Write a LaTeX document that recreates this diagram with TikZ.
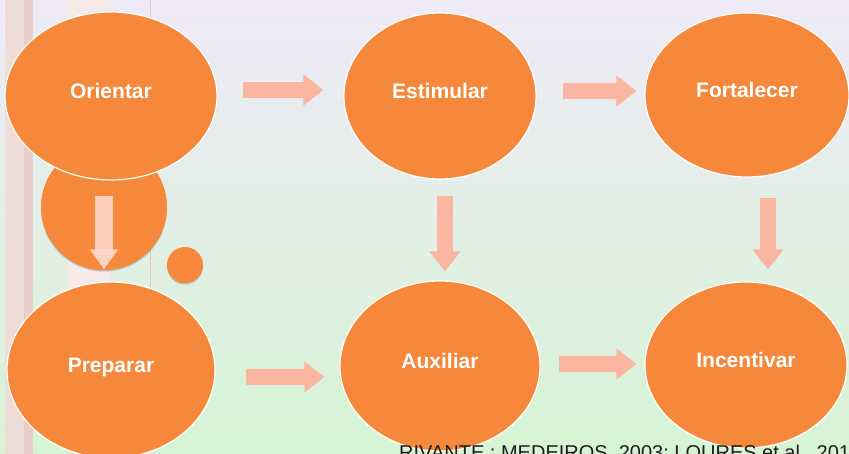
\documentclass[tikz,border=0pt]{standalone}
\usepackage{fontspec}
\setmainfont{Liberation Sans}
\usepackage{xcolor}
\usetikzlibrary{arrows.meta, shapes.geometric, shadows, positioning}

\definecolor{disc}{HTML}{F5883A}
\definecolor{salmon}{HTML}{FAB6A0}
\definecolor{paleband}{HTML}{EEDCD6}
\definecolor{darkband}{HTML}{E5C8BF}

\begin{document}
\begin{tikzpicture}[x=1pt, y=-1pt,
    blob/.style={ellipse, fill=disc, draw=white, line width=1.2pt, inner sep=0pt,
      text=white, font=\fontsize{21}{25}\selectfont\bfseries,
      text height=15pt, text depth=10pt},
    blockarrow/.style={salmon, line width=16pt,
      -{Triangle[width=30pt, length=20pt]}},
    innerarrow/.style={blockarrow, draw=salmon!55!white, opacity=.9,
      line width=18pt, -{Triangle[width=27pt, length=20pt]}}
  ]
  \clip (0,0) rectangle (849,454);
  \useasboundingbox (0,0) rectangle (849,454);

  % background of the slide
  \shade[top color={rgb,255:red,239;green,234;blue,247},
    middle color={rgb,255:red,251;green,252;blue,248},
    bottom color={rgb,255:red,214;green,244;blue,212}]
    (0,0) rectangle (849,454);
  \fill[paleband] (5,0) rectangle (33,454);
  \fill[darkband!70!paleband] (24,0) rectangle (33,454);
  \fill[paleband!60!white] (67,0) rectangle (110,300);
  \draw[darkband, line width=1pt] (150,0) -- (150,290);

  % small discs
  \node[circle, fill=disc, minimum size=126pt, inner sep=0pt,
    drop shadow={shadow xshift=0pt, shadow yshift=-1.5pt, opacity=.45}]
    (mid) at (104,207) {};
  \node[circle, fill=disc, minimum size=36pt, inner sep=0pt,
    drop shadow={shadow xshift=0pt, shadow yshift=-1.5pt, opacity=.45}]
    (dot) at (185,265) {};

  % steps
  \node[blob, minimum width=212pt, minimum height=168pt] (ori) at (111,96) {Orientar};
  \node[blob, minimum width=192pt, minimum height=166pt] (est) at (440,96) {Estimular};
  \node[blob, minimum width=204pt, minimum height=164pt] (fort) at (747,95) {Fortalecer};
  \node[blob, minimum width=208pt, minimum height=176pt] (prep) at (111,370) {Preparar};
  \node[blob, minimum width=200pt, minimum height=170pt] (aux) at (440,366) {Auxiliar};
  \node[blob, minimum width=202pt, minimum height=166pt] (inc) at (746,365) {Incentivar};

  % arrows
  \draw[blockarrow, shorten <=25pt, shorten >=20pt]
    ([yshift=6pt]ori.east) -- ([yshift=6pt]ori.east -| est.west);
  \draw[blockarrow, shorten <=26pt, shorten >=8pt]
    ([yshift=5pt]est.east) -- ([yshift=5pt]est.east -| fort.west);
  \draw[blockarrow, shorten <=30pt, shorten >=15pt]
    ([yshift=-7pt]prep.east) -- ([yshift=-7pt]prep.east -| aux.west);
  \draw[blockarrow, shorten <=18pt, shorten >=8pt]
    ([yshift=2pt]aux.east) -- ([yshift=2pt]aux.east -| inc.west);
  \draw[blockarrow, shorten <=16pt, shorten >=9pt]
    ([xshift=5pt]est.south) -- ([xshift=5pt]aux.north);
  \draw[blockarrow, shorten <=20pt, shorten >=12pt]
    ([xshift=21pt]fort.south) -- ([xshift=21pt]fort.south |- inc.north);
  \draw[innerarrow, shorten <=15pt, shorten >=12pt]
    (ori.south -| mid.center) -- (prep.north -| mid.center);

  % source line, cut by the edge of the slide
  \node[anchor=base west, inner sep=0pt, text={rgb,255:red,30;green,30;blue,30},
    font=\fontsize{20}{24}\selectfont] (src) at (399,459)
    {RIVANTE ; MEDEIROS, 2003; LOURES et al., 201};
\end{tikzpicture}
\end{document}
